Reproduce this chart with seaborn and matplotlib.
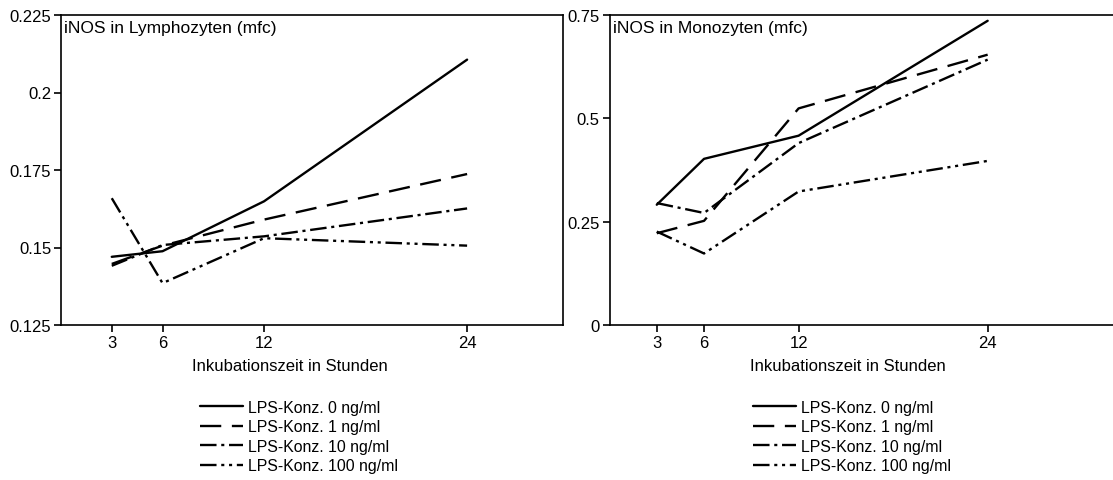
import pandas as pd
import matplotlib.pyplot as plt
import seaborn as sns
from matplotlib.lines import Line2D

sns.set_style("ticks")
plt.rcParams['font.family'] = ['Liberation Sans', 'DejaVu Sans']
plt.rcParams['font.size'] = 12
plt.rcParams['text.color'] = 'black'
plt.rcParams['xtick.color'] = 'black'
plt.rcParams['ytick.color'] = 'black'

# --------------------------------
# Data
# --------------------------------
hours = [3, 6, 12, 24]
series = ["LPS-Konz. 0 ng/ml", "LPS-Konz. 1 ng/ml",
          "LPS-Konz. 10 ng/ml", "LPS-Konz. 100 ng/ml"]

lympho_0 = [0.1470, 0.1488, 0.1649, 0.2106]
lympho_1 = [0.1447, 0.1506, 0.1590, 0.1737]
lympho_10 = [0.1441, 0.1508, 0.1536, 0.1626]
lympho_100 = [0.1659, 0.1385, 0.1530, 0.1506]

mono_0 = [0.291, 0.402, 0.458, 0.736]
mono_1 = [0.222, 0.252, 0.524, 0.654]
mono_10 = [0.295, 0.271, 0.440, 0.642]
mono_100 = [0.226, 0.173, 0.323, 0.397]

lympho_yticks = [0.125, 0.15, 0.175, 0.2, 0.225]
lympho_ylabels = ["0.125", "0.15", "0.175", "0.2", "0.225"]
mono_yticks = [0, 0.25, 0.5, 0.75]
mono_ylabels = ["0", "0.25", "0.5", "0.75"]


def long_df(vals):
    rows = []
    for name, v in zip(series, vals):
        for h, y in zip(hours, v):
            rows.append({"Stunden": h, "Wert": y, "Serie": name})
    return pd.DataFrame(rows)


df_l = long_df([lympho_0, lympho_1, lympho_10, lympho_100])
df_m = long_df([mono_0, mono_1, mono_10, mono_100])

dash_map = {
    series[0]: "",
    series[1]: (9, 4.5),
    series[2]: (7, 2, 1.3, 2),
    series[3]: (7, 2, 1.3, 2, 1.3, 2),
}

# --------------------------------
# Figure
# --------------------------------
fig = plt.figure(figsize=(11.13, 4.81), dpi=100)
ax1 = fig.add_axes([61 / 1113, 1 - 326 / 481, (562.7 - 61) / 1113, 310 / 481])
ax2 = fig.add_axes([609.5 / 1113, 1 - 326 / 481, (1114.5 - 609.5) / 1113, 310 / 481])

panels = [
    (ax1, df_l, "iNOS in Lymphozyten (mfc)", (0.125, 0.225), 29.65,
     lympho_yticks, lympho_ylabels, 290, 200),
    (ax2, df_m, "iNOS in Monozyten (mfc)", (0, 0.75), 32.05,
     mono_yticks, mono_ylabels, 848, 753),
]

for ax, d, title, ylim, xmax, yt, yl, xlab_px, leg_px in panels:
    sns.lineplot(data=d, x="Stunden", y="Wert", hue="Serie", style="Serie",
                 palette=["black"] * 4, dashes=dash_map, linewidth=1.7,
                 legend=False, ax=ax)
    ax.set_xlim(0, xmax)
    ax.set_ylim(*ylim)
    ax.set_xticks(hours)
    ax.set_yticks(yt)
    ax.set_yticklabels(yl)
    ax.set_xlabel("")
    ax.set_ylabel("")
    ax.tick_params(direction="out", length=5, width=1.2, pad=2, colors="black",
                   labelsize=12)
    for sp in ax.spines.values():
        sp.set_visible(True)
        sp.set_linewidth(1.2)
        sp.set_color("black")
    ax.text(0.006, 0.985, title, transform=ax.transAxes, ha="left", va="top",
            fontsize=12.5)

    fig.text(xlab_px / 1113, 1 - 367 / 481, "Inkubationszeit in Stunden",
             ha="center", va="center", fontsize=12)

    handles = []
    for s in series:
        h = Line2D([0], [0], color="black", linewidth=1.7)
        if dash_map[s] == "":
            h.set_linestyle("-")
        else:
            h.set_dashes(dash_map[s])
        handles.append(h)
    fig.legend(handles, series, loc="upper left",
               bbox_to_anchor=(leg_px / 1113, 1 - 401 / 481),
               frameon=False, fontsize=11.4, handlelength=2.7, handletextpad=0.32,
               labelspacing=0.28, borderpad=0, borderaxespad=0)

fig.savefig("out.png", dpi=100)
